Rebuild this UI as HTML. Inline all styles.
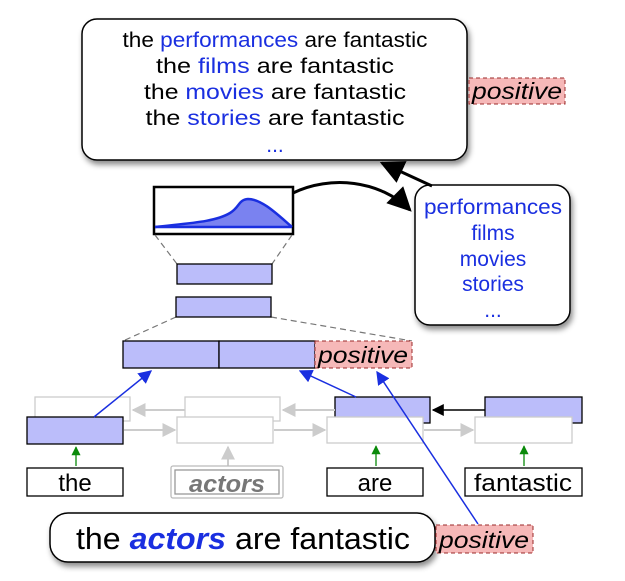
<!DOCTYPE html>
<html><head><meta charset="utf-8"><style>
html,body{margin:0;padding:0;background:#fff;}
svg{display:block;font-family:"Liberation Sans",sans-serif;}
</style></head><body>
<svg width="625" height="581" viewBox="0 0 625 581" xmlns="http://www.w3.org/2000/svg">
<defs>
<filter id="sh" x="-10%" y="-10%" width="130%" height="140%"><feDropShadow dx="2" dy="4" stdDeviation="3" flood-color="#000" flood-opacity="0.45"/></filter>
<marker id="ab" viewBox="0 0 10 10" refX="9" refY="5" markerWidth="9" markerHeight="9" orient="auto"><path d="M0,0L10,5L0,10z" fill="#1a2fe0"/></marker>
<marker id="ak" viewBox="0 0 10 10" refX="9" refY="5" markerWidth="8" markerHeight="8" orient="auto"><path d="M0,0L10,5L0,10z" fill="#000"/></marker>
<marker id="akb" viewBox="0 0 10 10" refX="9" refY="5" markerWidth="8" markerHeight="8" orient="auto"><path d="M0,0L10,5L0,10z" fill="#000"/></marker>
<marker id="ag" viewBox="0 0 10 10" refX="9" refY="5" markerWidth="7" markerHeight="7" orient="auto"><path d="M0,0L10,5L0,10z" fill="#ccc"/></marker>
<marker id="agr" viewBox="0 0 10 10" refX="9" refY="5" markerWidth="8" markerHeight="7" orient="auto"><path d="M0,0L10,5L0,10z" fill="#0a8a0a"/></marker>
</defs>

<rect x="82" y="19" width="385" height="141" rx="15" fill="#fff" stroke="#000" stroke-width="1.5" filter="url(#sh)"/>
<g font-size="21" text-anchor="middle" fill="#000">
<text x="275" y="47" textLength="305" lengthAdjust="spacingAndGlyphs">the <tspan fill="#1a2fe0">performances</tspan> are fantastic</text>
<text x="275" y="73" textLength="238" lengthAdjust="spacingAndGlyphs">the <tspan fill="#1a2fe0">films</tspan> are fantastic</text>
<text x="275" y="99" textLength="262" lengthAdjust="spacingAndGlyphs">the <tspan fill="#1a2fe0">movies</tspan> are fantastic</text>
<text x="275" y="125" textLength="259" lengthAdjust="spacingAndGlyphs">the <tspan fill="#1a2fe0">stories</tspan> are fantastic</text>
<text x="275" y="152" fill="#1a2fe0">...</text>
</g>
<rect x="469" y="78" width="96" height="26" fill="#f6b8b8" stroke="#9b2a2a" stroke-dasharray="4,3"/>
<text x="517" y="99" font-size="23" font-style="italic" text-anchor="middle" textLength="90" lengthAdjust="spacingAndGlyphs">positive</text>

<rect x="415" y="185" width="155" height="140" rx="15" fill="#fff" stroke="#000" stroke-width="1.5" filter="url(#sh)"/>
<g font-size="21" text-anchor="middle" fill="#1a2fe0">
<text x="493" y="214" textLength="138" lengthAdjust="spacingAndGlyphs">performances</text>
<text x="493" y="240">films</text>
<text x="493" y="266">movies</text>
<text x="493" y="291">stories</text>
<text x="493" y="317">...</text>
</g>

<rect x="154" y="187" width="139" height="47" fill="#fff" stroke="#000" stroke-width="2.5"/>
<path d="M155,227 C190,223 215,222 230,213 C240,207 238,200 248,199 C262,199 278,215 292,227 Z" fill="#7a82f0" stroke="none"/>
<path d="M155,227 C190,223 215,222 230,213 C240,207 238,200 248,199 C262,199 278,215 292,227" fill="none" stroke="#1a2fe0" stroke-width="2.5"/>
<line x1="155" y1="227" x2="292" y2="227" stroke="#1a2fe0" stroke-width="2.5"/>

<path d="M293,193 C330,175 380,180 410,210" fill="none" stroke="#000" stroke-width="3" marker-end="url(#ak)"/>
<path d="M432,186 L382,163" fill="none" stroke="#000" stroke-width="3" marker-end="url(#ak)"/>

<g stroke="#777" stroke-dasharray="6,4" stroke-width="1.2" fill="none">
<line x1="155" y1="235" x2="177" y2="264"/><line x1="292" y1="235" x2="272" y2="264"/>
<line x1="176" y1="317" x2="123" y2="341"/><line x1="271" y1="317" x2="412" y2="341"/>
</g>
<rect x="177" y="264" width="95" height="20" fill="#bbbdfa" stroke="#000" stroke-width="1.3"/>
<rect x="176" y="297" width="95" height="20" fill="#bbbdfa" stroke="#000" stroke-width="1.3"/>

<rect x="123" y="341" width="96" height="27" fill="#bbbdfa" stroke="#000" stroke-width="1.3"/>
<rect x="219" y="341" width="96" height="27" fill="#bbbdfa" stroke="#000" stroke-width="1.3"/>
<rect x="315" y="341" width="97" height="27" fill="#f6b8b8" stroke="#9b2a2a" stroke-dasharray="4,3"/>
<text x="363" y="363" font-size="23" font-style="italic" text-anchor="middle" textLength="90" lengthAdjust="spacingAndGlyphs">positive</text>

<g fill="#fff" stroke="#ccc" stroke-width="1.3">
<rect x="35" y="397" width="95" height="24"/>
<rect x="185" y="397" width="95" height="24"/>
<rect x="177" y="417" width="96" height="26"/>
</g>
<rect x="335" y="397" width="95" height="26" fill="#bbbdfa" stroke="#000" stroke-width="1.3"/>
<rect x="327" y="417" width="96" height="26" fill="#fff" stroke="#ccc" stroke-width="1.3"/>
<rect x="485" y="397" width="97" height="26" fill="#bbbdfa" stroke="#000" stroke-width="1.3"/>
<rect x="475" y="417" width="97" height="26" fill="#fff" stroke="#ccc" stroke-width="1.3"/>
<rect x="27" y="417" width="96" height="27" fill="#bbbdfa" stroke="#000" stroke-width="1.3"/>

<g stroke="#ccc" stroke-width="2" fill="none">
<line x1="185" y1="410" x2="133" y2="410" marker-end="url(#ag)"/>
<line x1="335" y1="410" x2="283" y2="410" marker-end="url(#ag)"/>
<line x1="124" y1="430" x2="175" y2="430" marker-end="url(#ag)"/>
<line x1="274" y1="430" x2="325" y2="430" marker-end="url(#ag)"/>
<line x1="424" y1="430" x2="473" y2="430" marker-end="url(#ag)"/>
<line x1="228" y1="466" x2="228" y2="447" marker-end="url(#ag)"/>
</g>
<line x1="485" y1="410" x2="433" y2="410" stroke="#000" stroke-width="1.5" marker-end="url(#akb)"/>
<g stroke="#0a8a0a" stroke-width="1.3">
<line x1="76" y1="466" x2="76" y2="447" marker-end="url(#agr)"/>
<line x1="376" y1="466" x2="376" y2="446" marker-end="url(#agr)"/>
<line x1="524" y1="466" x2="524" y2="446" marker-end="url(#agr)"/>
</g>

<g stroke="#1a2fe0" stroke-width="1.5" fill="none">
<line x1="94" y1="417" x2="151" y2="371" marker-end="url(#ab)"/>
<line x1="356" y1="397" x2="300" y2="371" marker-end="url(#ab)"/>
<line x1="478" y1="524" x2="377" y2="372" marker-end="url(#ab)"/>
</g>

<g font-size="24" text-anchor="middle">
<rect x="27" y="468" width="96" height="28" fill="#fff" stroke="#000" stroke-width="1.3"/>
<text x="75" y="491">the</text>
<rect x="171" y="466" width="112" height="32" fill="#fff" stroke="#bbb" stroke-width="1.3" rx="2"/>
<rect x="175" y="470" width="104" height="24" fill="#fff" stroke="#999" stroke-width="1.3"/>
<text x="227" y="492" font-style="italic" font-weight="bold" fill="#777" textLength="76" lengthAdjust="spacingAndGlyphs">actors</text>
<rect x="327" y="468" width="96" height="28" fill="#fff" stroke="#000" stroke-width="1.3"/>
<text x="375" y="491">are</text>
<rect x="465" y="468" width="117" height="28" fill="#fff" stroke="#000" stroke-width="1.3"/>
<text x="523" y="491" textLength="98" lengthAdjust="spacingAndGlyphs">fantastic</text>
</g>

<rect x="50" y="513" width="385" height="49" rx="18" fill="#fff" stroke="#000" stroke-width="1.5" filter="url(#sh)"/>
<text x="243" y="549" font-size="31" text-anchor="middle" textLength="334" lengthAdjust="spacingAndGlyphs">the <tspan fill="#1a2fe0" font-style="italic" font-weight="bold">actors</tspan> are fantastic</text>
<rect x="436" y="525" width="97" height="28" fill="#f6b8b8" stroke="#9b2a2a" stroke-dasharray="4,3"/>
<text x="484" y="548" font-size="23" font-style="italic" text-anchor="middle" textLength="90" lengthAdjust="spacingAndGlyphs">positive</text>
</svg>
</body></html>
